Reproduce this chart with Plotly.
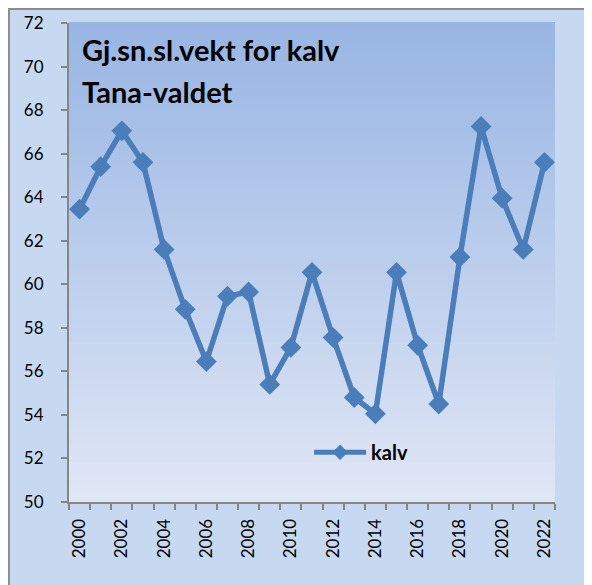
import plotly.graph_objects as go

# data
years = list(range(2000, 2023))
kalv = [63.45, 65.4, 67.05, 65.6, 61.6, 58.85, 56.45, 59.45, 59.65, 55.4,
        57.1, 60.55, 57.55, 54.8, 54.05, 60.55, 57.2, 54.5, 61.25, 67.25,
        63.95, 61.6, 65.6]
label_years = list(range(2000, 2023, 2))
y_ticks = list(range(50, 73, 2))

line_blue = '#4A7EBB'
axis_grey = '#868686'


def mix(c1, c2, t):
    return '#%02x%02x%02x' % tuple(round(a + (b - a) * t) for a, b in zip(c1, c2))


fig = go.Figure()

fig.add_trace(go.Scatter(
    x=years, y=kalv,
    mode='lines+markers',
    name='kalv',
    line=dict(color=line_blue, width=5.5),
    marker=dict(symbol='diamond', size=16, color=line_blue)))

shapes = []
# outer chart frame (light blue with grey edge)
shapes.append(dict(
    type='rect', xref='paper', yref='paper', layer='below',
    x0=-0.1235, x1=1.3, y0=-0.4, y1=1.029,
    fillcolor='#C6D9F1', line=dict(color='#8C8C8C', width=2)))

# vertical gradient in the plot area
top = (152, 181, 227)
bottom = (224, 231, 245)
n = 60
for i in range(n):
    shapes.append(dict(
        type='rect', xref='x domain', yref='y domain', layer='below',
        x0=0, x1=1, y0=i / n, y1=(i + 1) / n + 0.002,
        fillcolor=mix(bottom, top, (i + 0.5) / n), line=dict(width=0)))

fig.update_layout(
    width=592, height=585,
    margin=dict(l=61, r=45, t=15, b=91),
    paper_bgcolor='white',
    plot_bgcolor='rgba(0,0,0,0)',
    font=dict(family='Lato', color='black', size=17),
    shapes=shapes,
    showlegend=True,
    legend=dict(
        x=0.494, y=0.104, xanchor='left', yanchor='middle',
        bgcolor='rgba(0,0,0,0)', itemwidth=52, itemsizing='constant',
        font=dict(family='Lato', size=20, color='black', weight='bold')),
    xaxis=dict(
        range=[1999.5, 2022.5],
        tickvals=label_years,
        ticktext=[str(y) for y in label_years],
        tickangle=-90,
        ticks='',
        ticklabelstandoff=8,
        automargin=False,
        showgrid=False, zeroline=False,
        showline=True, linecolor=axis_grey, linewidth=2,
        minor=dict(ticks='outside', tick0=1999.5, dtick=1, ticklen=6,
                   tickcolor=axis_grey, tickwidth=2, showgrid=False),
        tickfont=dict(size=17)),
    yaxis=dict(
        range=[50, 72],
        tickvals=y_ticks,
        ticks='outside', ticklen=6, tickcolor=axis_grey, tickwidth=2,
        ticklabelstandoff=14,
        automargin=False,
        showgrid=False, zeroline=False,
        showline=True, linecolor=axis_grey, linewidth=2,
        tickfont=dict(size=17)),
    annotations=[
        dict(text='Gj.sn.sl.vekt for kalv', xref='paper', yref='paper',
             x=0.0226, y=0.944, xanchor='left', yanchor='middle',
             showarrow=False, font=dict(family='Lato', size=29, weight='bold')),
        dict(text='Tana-valdet', xref='paper', yref='paper',
             x=0.0226, y=0.856, xanchor='left', yanchor='middle',
             showarrow=False, font=dict(family='Lato', size=29, weight='bold')),
    ])

fig.write_html('out.html')
